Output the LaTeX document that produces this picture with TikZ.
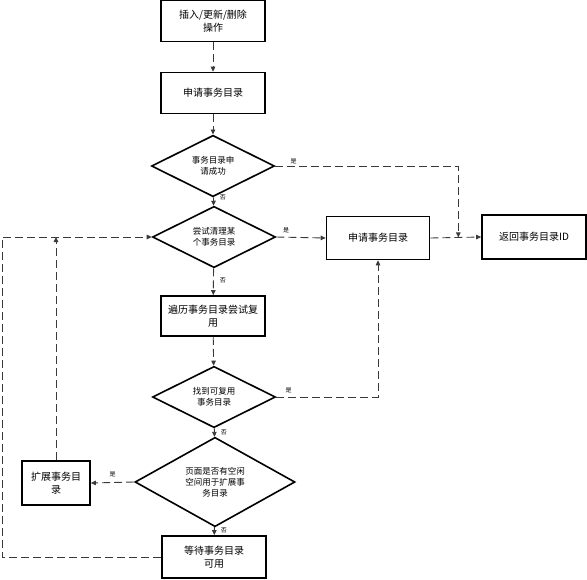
\documentclass[tikz,border=0pt]{standalone}
\usepackage{fontspec}
\usepackage{tikz}
\usetikzlibrary{positioning,shapes.geometric,arrows.meta,calc}
\newfontfamily\cjk{Noto Sans CJK SC}
\definecolor{flowLine}{HTML}{3A3A3A}

\begin{document}
\begin{tikzpicture}[
    x=1pt, y=-1pt,
    box/.style={draw, line width=1.6pt, minimum width=104pt, minimum height=41pt, align=center, inner sep=1pt, font=\cjk\fontsize{10}{12.5}\selectfont},
    cond/.style={draw, diamond, line width=1.6pt, minimum width=123pt, minimum height=49pt, align=center, inner sep=0pt, font=\cjk\fontsize{8.5}{11}\selectfont},
    flow/.style={draw=flowLine, line width=0.9pt, dash pattern=on 8pt off 4pt, -{Triangle[length=5pt,width=4.5pt]}},
    lbl/.style={font=\cjk\fontsize{6}{7}\selectfont, inner sep=2pt},
]
\useasboundingbox (0,0) rectangle (587,579);

% ===== MAIN COLUMN =====
\node[box] (op) at (213,21) {插入/更新/删除\\操作};
\node[box] (req) at (213,93) {申请事务目录};
\node[cond] (ok) at (213,166) {事务目录申\\请成功};
\node[cond] (clean) at (214,237) {尝试清理某\\个事务目录};
\node[box, minimum height=40pt] (scan) at (213,316) {遍历事务目录尝试复\\用};
\node[cond] (found) at (214,397) {找到可复用\\事务目录};
\node[cond, minimum width=160pt] (space) at (215,482) {页面是否有空闲\\空间用于扩展事\\务目录};
\node[box, minimum height=42pt] (wait) at (214,557) {等待事务目录\\可用};

% ===== RIGHT SIDE =====
\node[box, minimum width=103pt, minimum height=43pt] (req2) at (378,238) {申请事务目录};
\node[box, minimum height=44pt] (ret) at (534,237) {返回事务目录ID};
\coordinate (join) at ($(req2.east)!0.55!(ret.west)$);

% ===== LEFT SIDE =====
\node[box, minimum width=68pt, minimum height=44pt] (extend) at (56,483) {扩展事务目\\录};
\coordinate (edge) at (2,0);

% Straight flow
\draw[flow] (op) -- (req);
\draw[flow] (req) -- (ok);
\draw[flow] (ok) -- node[lbl, pos=0.05, right=4pt] {否} (clean);
\draw[flow] (clean) -- node[lbl, pos=0.45, right=4pt] {否} (scan);
\draw[flow] (scan) -- (found);
\draw[flow] (found) -- node[lbl, pos=0.45, right=4pt] {否} (space);
\draw[flow] (space) -- node[lbl, pos=0.45, right=4pt] {否} (wait);

% Yes branches
\draw[flow] (ok.east) -| node[lbl, pos=0.05, above] {是} (join);
\draw[flow] (clean.east) -- node[lbl, pos=0.2, above=2pt] {是} (req2.west);
\draw[flow] (req2.east) -- (ret.west);
\draw[flow] (found.east) -| node[lbl, pos=0.06, above=2pt] {是} (req2.south);
\draw[flow] (space.west) -- node[lbl, midway, above=3pt] {是} (extend.east);

% Loops back
\draw[flow] (extend.north) -- (extend.north |- clean.west);
\draw[flow] (wait.west) -| (edge |- clean.west) -- (clean.west);

\end{tikzpicture}
\end{document}
